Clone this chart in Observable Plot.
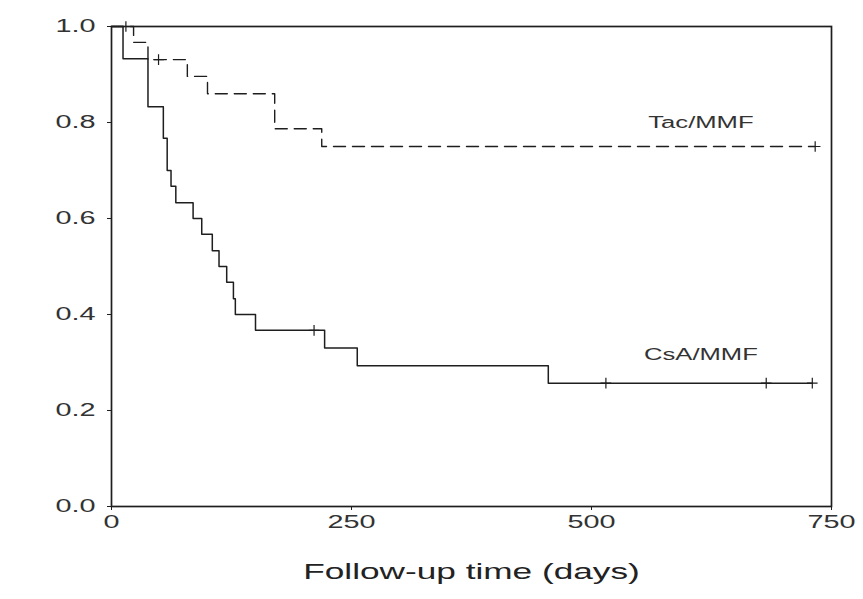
<!DOCTYPE html>
<html>
<head>
<meta charset="utf-8">
<script src="https://cdn.jsdelivr.net/npm/d3@7"></script>
<script src="https://cdn.jsdelivr.net/npm/@observablehq/plot@0.6"></script>
<style>
  html, body { margin: 0; padding: 0; background: #fff; }
  #chart { width: 863px; height: 599px; }
</style>
</head>
<body>
<div id="chart"></div>
<script>
// Kaplan–Meier curves
const tacTimes = [0, 23, 38, 79, 100, 170, 219];
const tacSurv  = [1.0, 0.967, 0.931, 0.896, 0.860, 0.787, 0.750];
const tacCensor = [15, 49, 733];
const tacEnd = 733;

const csaTimes = [0, 12, 38, 54, 58, 62, 67, 85, 94, 105, 112, 120, 127, 129, 150, 222, 256, 455];
const csaSurv  = [1.0, 0.933, 0.833, 0.767, 0.700, 0.667, 0.633, 0.600, 0.567, 0.533, 0.500, 0.467, 0.433, 0.400, 0.367, 0.330, 0.293, 0.257];
const csaCensor = [211, 515, 682, 730];
const csaEnd = 730;

const xTicks = [0, 250, 500, 750];
const yTicks = [0, 0.2, 0.4, 0.6, 0.8, 1.0];

const seriesLabels = [
  {name: "Tac/MMF", t: 614, s: 0.80},
  {name: "CsA/MMF", t: 614, s: 0.315}
];
const xLabel = "Follow-up time (days)";

function steps(times, surv, end) {
  const pts = times.map((t, i) => ({t, s: surv[i]}));
  pts.push({t: end, s: surv[surv.length - 1]});
  return pts;
}
function survAt(times, surv, t) {
  let v = surv[0];
  for (let i = 0; i < times.length; i++) if (times[i] <= t) v = surv[i];
  return v;
}
const tacLine = steps(tacTimes, tacSurv, tacEnd);
const csaLine = steps(csaTimes, csaSurv, csaEnd);
const censors = [
  ...tacCensor.map(t => ({t, s: survAt(tacTimes, tacSurv, t)})),
  ...csaCensor.map(t => ({t, s: survAt(csaTimes, csaSurv, t)}))
];

const ink = "#1e1e1e";
const font = "'Liberation Sans', Arial, sans-serif";
const chart = Plot.plot({
  width: 863,
  height: 599,
  marginTop: 26,
  marginBottom: 93,
  marginLeft: 111,
  marginRight: 32,
  style: {fontFamily: font, fontSize: "16px", color: "#333", background: "#fff"},
  x: {domain: [0, 750], label: null},
  y: {domain: [0, 1], label: null},
  marks: [
    Plot.axisX({ticks: xTicks, tickSize: 4, tickPadding: 5, fontSize: 18, fill: "#333", stroke: ink, label: null}),
    Plot.axisY({ticks: yTicks, tickFormat: d3.format(".1f"), tickSize: 4, tickPadding: 12, fontSize: 18, fill: "#333", stroke: ink, label: null}),
    Plot.frame({stroke: ink, strokeWidth: 1.7}),
    Plot.line(tacLine, {x: "t", y: "s", curve: "step-after", stroke: ink, strokeWidth: 1.4, strokeDasharray: "12,7"}),
    Plot.line(csaLine, {x: "t", y: "s", curve: "step-after", stroke: ink, strokeWidth: 1.5}),
    Plot.dot(censors, {x: "t", y: "s", symbol: "plus", r: 3.5, stroke: ink, strokeWidth: 1.2}),
    Plot.text(seriesLabels, {x: "t", y: "s", text: "name", fontSize: 16, fill: "#333"}),
    Plot.text([xLabel], {frameAnchor: "bottom", dy: 72, fontSize: 22, fill: "#222"})
  ]
});
document.getElementById("chart").appendChild(chart);

// The scanned reference has horizontally stretched lettering: widen glyphs to match.
const stretch = 1.6;
chart.querySelectorAll("text").forEach(el => {
  const w = el.getComputedTextLength();
  if (w > 0) {
    el.setAttribute("textLength", (w * stretch).toFixed(1));
    el.setAttribute("lengthAdjust", "spacingAndGlyphs");
  }
});
</script>
</body>
</html>
